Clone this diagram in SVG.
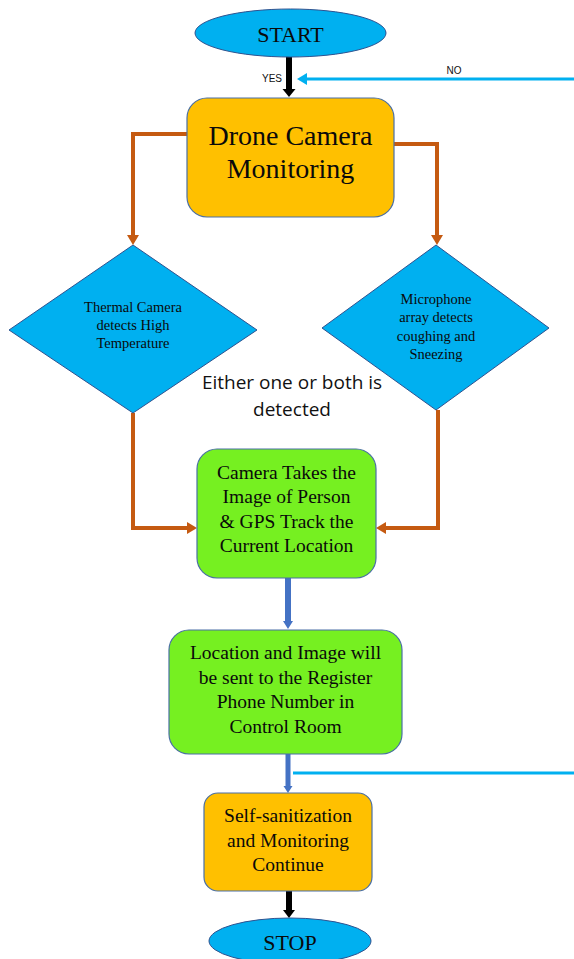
<svg xmlns="http://www.w3.org/2000/svg" width="574" height="959" viewBox="0 0 574 959">
<defs>
<style>
.term{fill:#00B0F0;stroke:#2F528F;stroke-width:1}
.dia{fill:#00B0F0;stroke:#2F528F;stroke-width:1}
.orange{fill:#FFC000;stroke:#4A6FA5;stroke-width:1.2}
.green{fill:#76F021;stroke:#4A6FA5;stroke-width:1.2}
.t{font-family:"Liberation Serif","Times New Roman",serif;fill:#0a0a0a;text-anchor:middle}
.s{font-family:"Liberation Sans",Arial,sans-serif;fill:#111;text-anchor:middle}
.c{font-family:"Open Sans","Liberation Sans",sans-serif;fill:#111;text-anchor:middle}
.oline{fill:none;stroke:#C55A11;stroke-width:4}
</style>
<marker id="ah-o" markerUnits="userSpaceOnUse" markerWidth="12" markerHeight="12" refX="0" refY="6" orient="auto">
<path d="M0,0 L10,6 L0,12 z" fill="#C55A11"/>
</marker>
<marker id="ah-c" markerUnits="userSpaceOnUse" markerWidth="12" markerHeight="12" refX="0" refY="6" orient="auto">
<path d="M0,0 L10,6 L0,12 z" fill="#00B0F0"/>
</marker>
</defs>

<g id="connectors">
<rect x="286" y="56" width="6" height="34" fill="#000"/>
<polygon points="282.5,89 295.5,89 289,97" fill="#000"/>
<line x1="574" y1="79" x2="307" y2="79" stroke="#00B0F0" stroke-width="3" marker-end="url(#ah-c)"/>
<polyline class="oline" points="187,134 133,134 133,235" marker-end="url(#ah-o)"/>
<polyline class="oline" points="394,144 437,144 437,235" marker-end="url(#ah-o)"/>
<polyline class="oline" points="133,413 133,528 187,528" marker-end="url(#ah-o)"/>
<polyline class="oline" points="438,410 438,528 386,528" marker-end="url(#ah-o)"/>
<rect x="285" y="578" width="6" height="44" fill="#4472C4"/>
<polygon points="283,621 293,621 288,629" fill="#4472C4"/>
<rect x="285.5" y="754" width="5" height="33" fill="#4472C4"/>
<polygon points="283.5,786 292.5,786 288,793" fill="#4472C4"/>
<line x1="293" y1="773" x2="574" y2="773" stroke="#00B0F0" stroke-width="3"/>
<rect x="286" y="891" width="6" height="20" fill="#000"/>
<polygon points="283,910 295,910 289,918" fill="#000"/>
<text class="s" x="272" y="82" font-size="10">YES</text>
<text class="s" x="454" y="74" font-size="10">NO</text>
</g>

<g id="start">
<ellipse class="term" cx="290.5" cy="33" rx="95.5" ry="24"/>
<text class="t" x="290.5" y="41.5" font-size="22">START</text>
</g>

<g id="drone">
<rect class="orange" x="187" y="98" width="207" height="119" rx="20"/>
<text class="t" x="290.5" y="145" font-size="28">Drone Camera</text>
<text class="t" x="290.5" y="178" font-size="28">Monitoring</text>
</g>

<g id="thermal">
<polygon class="dia" points="133,245 257,330 133,413 9,330"/>
<text class="t" x="133" y="312" font-size="14.5">Thermal Camera</text>
<text class="t" x="133" y="330" font-size="14.5">detects High</text>
<text class="t" x="133" y="348" font-size="14.5">Temperature</text>
</g>

<g id="microphone">
<polygon class="dia" points="436,245 549,328 436,410 322,328"/>
<text class="t" x="436" y="304" font-size="14.5">Microphone</text>
<text class="t" x="436" y="322" font-size="14.5">array detects</text>
<text class="t" x="436" y="341" font-size="14.5">coughing and</text>
<text class="t" x="436" y="359" font-size="14.5">Sneezing</text>
</g>

<g id="either-label">
<text class="c" x="292" y="389" font-size="19">Either one or both is</text>
<text class="c" x="292" y="416" font-size="19">detected</text>
</g>

<g id="capture">
<rect class="green" x="197" y="449" width="179" height="129" rx="20"/>
<text class="t" x="286.5" y="479" font-size="19.5">Camera Takes the</text>
<text class="t" x="286.5" y="503" font-size="19.5">Image of Person</text>
<text class="t" x="286.5" y="528" font-size="19.5">&amp; GPS Track the</text>
<text class="t" x="286.5" y="552" font-size="19.5">Current Location</text>
</g>

<g id="send">
<rect class="green" x="169" y="630" width="233" height="124" rx="20"/>
<text class="t" x="285.5" y="659" font-size="19.5">Location and Image will</text>
<text class="t" x="285.5" y="684" font-size="19.5">be sent to the Register</text>
<text class="t" x="285.5" y="708" font-size="19.5">Phone Number in</text>
<text class="t" x="285.5" y="733" font-size="19.5">Control Room</text>
</g>

<g id="sanitize">
<rect class="orange" x="204" y="793" width="168" height="98" rx="14"/>
<text class="t" x="288" y="822" font-size="19.5">Self-sanitization</text>
<text class="t" x="288" y="847" font-size="19.5">and Monitoring</text>
<text class="t" x="288" y="871" font-size="19.5">Continue</text>
</g>

<g id="stop">
<ellipse class="term" cx="290" cy="941" rx="81" ry="23"/>
<text class="t" x="290" y="950" font-size="22">STOP</text>
</g>
</svg>
